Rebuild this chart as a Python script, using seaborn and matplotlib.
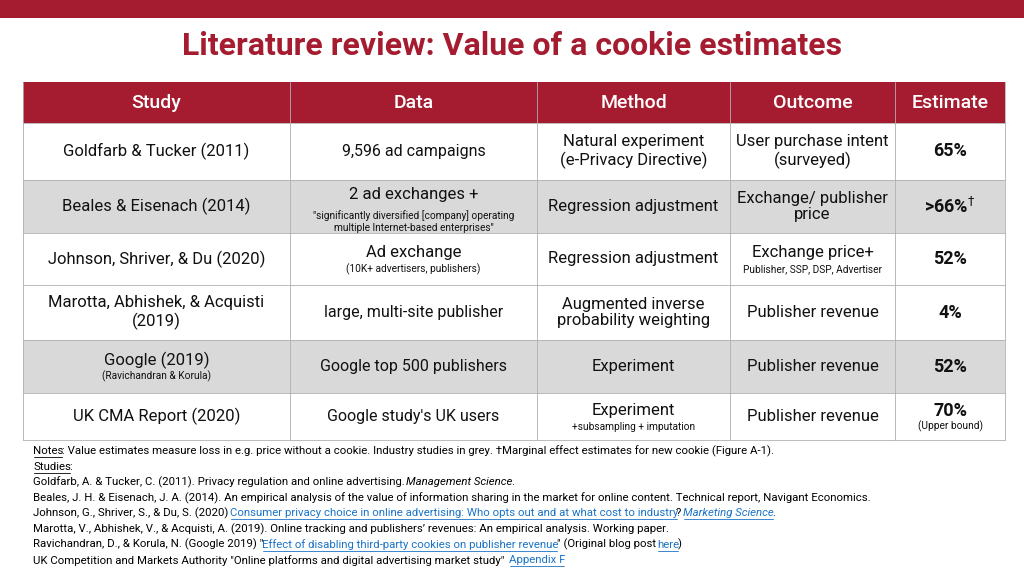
import matplotlib
matplotlib.use("Agg")
import matplotlib.pyplot as plt
import seaborn as sns

RED = "#A51C30"
GREY = "#D9D9D9"
BLUE = "#1A73C8"

title = "Literature review: Value of a cookie estimates"
headers = ["Study", "Data", "Method", "Outcome", "Estimate"]
studies = ["Goldfarb & Tucker (2011)", "Beales & Eisenach (2014)", "Johnson, Shriver, & Du (2020)",
           "Marotta, Abhishek, & Acquisti\n(2019)", "Google (2019)", "UK CMA Report (2020)"]
studies_sub = ["", "", "", "", "(Ravichandran & Korula)", ""]
data_col = ["9,596 ad campaigns", "2 ad exchanges +", "Ad exchange", "large, multi-site publisher",
            "Google top 500 publishers", "Google study's UK users"]
data_sub = ["", "\"significantly diversified [company] operating\nmultiple Internet-based enterprises\"",
            "(10K+ advertisers, publishers)", "", "", ""]
method = ["Natural experiment\n(e-Privacy Directive)", "Regression adjustment", "Regression adjustment",
          "Augmented inverse\nprobability weighting", "Experiment", "Experiment"]
method_sub = ["", "", "", "", "", "+subsampling + imputation"]
outcome = ["User purchase intent\n(surveyed)", "Exchange/ publisher\nprice", "Exchange price+",
           "Publisher revenue", "Publisher revenue", "Publisher revenue"]
outcome_sub = ["", "", "Publisher, SSP, DSP, Advertiser", "", "", ""]
estimate = ["65%", ">66%$^{\\dagger}$", "52%", "4%", "52%", "70%"]
estimate_sub = ["", "", "", "", "", "(Upper bound)"]
grey_rows = [False, True, False, False, True, False]

# notes: list of lines, each a list of (text, style)
notes = [
    [("Notes", "u"), (": Value estimates measure loss in e.g. price without a cookie. Industry studies in grey. \u2020Marginal effect estimates for new cookie (Figure A-1).", "n")],
    [("Studies", "u"), (":", "n")],
    [("Goldfarb, A. & Tucker, C. (2011). Privacy regulation and online advertising. ", "n"), ("Management Science", "i"), (".", "n")],
    [("Beales, J. H. & Eisenach, J. A. (2014). An empirical analysis of the value of information sharing in the market for online content. Technical report, Navigant Economics.", "n")],
    [("Johnson, G., Shriver, S., & Du, S. (2020) ", "n"), ("Consumer privacy choice in online advertising: Who opts out and at what cost to industry", "l"), ("? ", "n"), ("Marketing Science", "li"), (".", "n")],
    [("Marotta, V., Abhishek, V., & Acquisti, A. (2019). Online tracking and publishers\u2019 revenues: An empirical analysis. Working paper.", "n")],
    [("Ravichandran, D., & Korula, N. (Google 2019) \"", "n"), ("Effect of disabling third-party cookies on publisher revenue", "l"), ("\" (Original blog post ", "n"), ("here", "l"), (")", "n")],
    [("UK Competition and Markets Authority \"Online platforms and digital advertising market study\"  ", "n"), ("Appendix F", "l")],
]

sns.set_theme(style="white")
plt.rcParams['font.family'] = ['Roboto', 'DejaVu Sans']

fig = plt.figure(figsize=(10.24, 5.68), dpi=100)
ax = fig.add_axes([0, 0, 1, 1])
ax.set_xlim(0, 1024)
ax.set_ylim(568, 0)
ax.axis("off")

ax.add_patch(plt.Rectangle((0, 0), 1024, 18, color=RED, lw=0))
ax.text(512, 46, title, ha="center", va="center", color=RED, fontsize=23, fontweight="bold")

cols = [23, 290, 537, 730, 895, 1005]
rows = [82, 123, 180, 233, 285, 340, 393, 440]

ax.add_patch(plt.Rectangle((cols[0], rows[0]), cols[-1] - cols[0], rows[1] - rows[0], color=RED, lw=0))
for j, h in enumerate(headers):
    ax.text((cols[j] + cols[j + 1]) / 2, (rows[0] + rows[1]) / 2 + 1, h, ha="center", va="center",
            color="white", fontsize=14, fontweight="medium")

table = [(studies, studies_sub), (data_col, data_sub), (method, method_sub),
         (outcome, outcome_sub), (estimate, estimate_sub)]
for i in range(len(studies)):
    y0, y1 = rows[i + 1], rows[i + 2]
    if grey_rows[i]:
        ax.add_patch(plt.Rectangle((cols[0], y0), cols[-1] - cols[0], y1 - y0, color=GREY, lw=0))
    for j, (main, sub) in enumerate(table):
        cx = (cols[j] + cols[j + 1]) / 2
        cy = (y0 + y1) / 2
        fw = "bold" if j == 4 else "normal"
        fs = 13 if j == 4 else 12
        if j == 1 and not sub[i]:
            fs = 11.5
        if sub[i]:
            nsub = sub[i].count("\n") + 1
            ax.text(cx, cy - 6 * nsub, main[i], ha="center", va="center", fontsize=fs, fontweight=fw, color="#111")
            ax.text(cx, cy + 10 + 5 * (nsub - 1), sub[i], ha="center", va="center", fontsize=7.3,
                    color="#111", linespacing=1.3)
        else:
            ax.text(cx, cy, main[i], ha="center", va="center", fontsize=fs, fontweight=fw,
                    color="#111", linespacing=1.15)

# grid lines
for y in rows[1:]:
    ax.plot([cols[0], cols[-1]], [y, y], color="#b0b0b0", lw=0.6)
for x in cols:
    ax.plot([x, x], [rows[0], rows[-1]], color="#b0b0b0", lw=0.6)

fig.canvas.draw()
r = fig.canvas.get_renderer()
inv = ax.transData.inverted()
y = 451
for line in notes:
    x = 33
    for txt, st in line:
        color = BLUE if "l" in st else "black"
        style = "italic" if "i" in st else "normal"
        t = ax.text(x, y, txt, ha="left", va="center", fontsize=8.2, color=color, fontstyle=style)
        bb = t.get_window_extent(renderer=r)
        (xa, _), (xb, _) = inv.transform([[bb.x0, bb.y0], [bb.x1, bb.y1]])
        if "u" in st or "l" in st:
            ax.plot([xa + 1, xb - 1], [y + 6, y + 6], color=color, lw=0.6)
        x = xb - 1.5
    y += 15.6

fig.savefig("out.png", dpi=100)
